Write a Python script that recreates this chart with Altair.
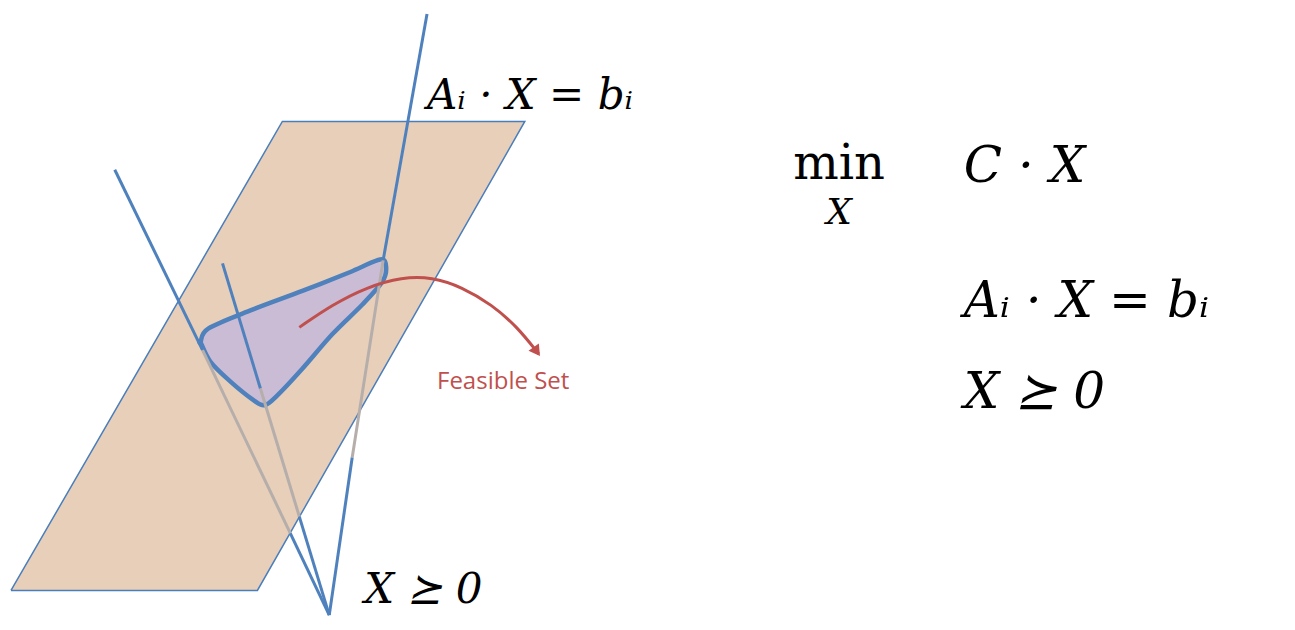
import altair as alt
import pandas as pd

# plane (parallelogram)
plane_x = [8, 255, 523, 280, 8]
plane_y = [590, 590, 114, 114, 590]

# feasible set outline
feas_x = [198, 206, 250, 300, 350, 378, 384, 380, 360, 330, 300, 275, 262, 250, 228, 208, 198]
feas_y = [338, 324, 305, 286, 266, 254, 262, 277, 300, 330, 365, 392, 402, 396, 378, 358, 338]

# cone edges: segment id, x, y, colour group
seg_id = ["a1", "a1", "a2", "a2", "a3", "a3",
          "b1", "b1", "b2", "b2", "b3", "b3",
          "c1", "c1", "c2", "c2", "c3", "c3"]
seg_x = [112, 200, 200, 288, 288, 327,
         220, 258, 258, 297, 297, 327,
         425, 381, 381, 350, 350, 327]
seg_y = [163, 346, 346, 532, 532, 615,
         258, 385, 385, 515, 515, 615,
         5, 255, 255, 455, 455, 615]
seg_grp = ["blue", "blue", "gray", "gray", "blue", "blue",
           "blue", "blue", "gray", "gray", "blue", "blue",
           "blue", "blue", "gray", "gray", "blue", "blue"]

# red arrow curve
arrow_x = [297, 330, 365, 400, 430, 460, 490, 515, 537]
arrow_y = [323, 300, 282, 272, 272, 282, 300, 322, 350]

xs = alt.Scale(domain=[8, 1287])
ys = alt.Scale(domain=[8, 622], reverse=True)
noax = dict(axis=None)


def xy(df):
    return dict(x=alt.X("x:Q", scale=xs, **noax), y=alt.Y("y:Q", scale=ys, **noax))


plane = pd.DataFrame({"x": plane_x, "y": plane_y, "o": range(len(plane_x))})
feas = pd.DataFrame({"x": feas_x, "y": feas_y, "o": range(len(feas_x))})
segs = pd.DataFrame({"id": seg_id, "x": seg_x, "y": seg_y, "g": seg_grp})
arrow = pd.DataFrame({"x": arrow_x, "y": arrow_y, "o": range(len(arrow_x))})

plane_c = alt.Chart(plane).mark_line(fill="#E8CFBA", stroke="#4A7EBB", strokeWidth=1.5).encode(
    order="o:Q", **xy(plane))
seg_c = alt.Chart(segs).mark_line(strokeWidth=3).encode(
    detail="id:N",
    color=alt.Color("g:N", scale=alt.Scale(domain=["blue", "gray"], range=["#4F81BD", "#B5AEAA"]), legend=None),
    **xy(segs))
feas_c = alt.Chart(feas).mark_line(fill="#CBBCD6", stroke="#4F81BD", strokeWidth=4.5,
                                   interpolate="cardinal-closed").encode(order="o:Q", **xy(feas))
arrow_c = alt.Chart(arrow).mark_line(stroke="#C0504D", strokeWidth=3, interpolate="basis").encode(
    order="o:Q", **xy(arrow))
head = alt.Chart(pd.DataFrame({"x": [534], "y": [346]})).mark_point(
    shape="triangle", angle=145, size=160, filled=True, color="#C0504D", opacity=1).encode(**xy(None))

labels = pd.DataFrame({
    "x": [425, 963, 963, 963, 362],
    "y": [88, 160, 297, 390, 590],
    "t": ["Aᵢ · X = bᵢ", "C · X", "Aᵢ · X = bᵢ", "X ⪰ 0", "X ⪰ 0"],
    "s": [42, 50, 50, 50, 42],
})
text_c = alt.Chart(labels).mark_text(font="DejaVu Serif", fontStyle="italic", align="left",
                                     baseline="middle", color="black").encode(
    text="t:N", size=alt.Size("s:Q", scale=None, legend=None), **xy(labels))
min_c = alt.Chart(pd.DataFrame({"x": [838], "y": [158], "t": ["min"]})).mark_text(
    font="DejaVu Serif", fontSize=48, baseline="middle").encode(text="t:N", **xy(None))
minx_c = alt.Chart(pd.DataFrame({"x": [838], "y": [207], "t": ["X"]})).mark_text(
    font="DejaVu Serif", fontStyle="italic", fontSize=36, baseline="middle").encode(text="t:N", **xy(None))
feas_t = alt.Chart(pd.DataFrame({"x": [435], "y": [378], "t": ["Feasible Set"]})).mark_text(
    font="Open Sans", fontSize=24, align="left", baseline="middle", color="#C0504D").encode(text="t:N", **xy(None))

chart = alt.layer(plane_c, feas_c, seg_c, arrow_c, head, text_c, min_c, minx_c, feas_t).properties(
    width=1279, height=614, padding=0,
    autosize=alt.AutoSizeParams(type="fit", contains="padding"),
).configure_view(stroke=None)

chart.save("out.html", embed_options={"renderer": "svg", "actions": False})
